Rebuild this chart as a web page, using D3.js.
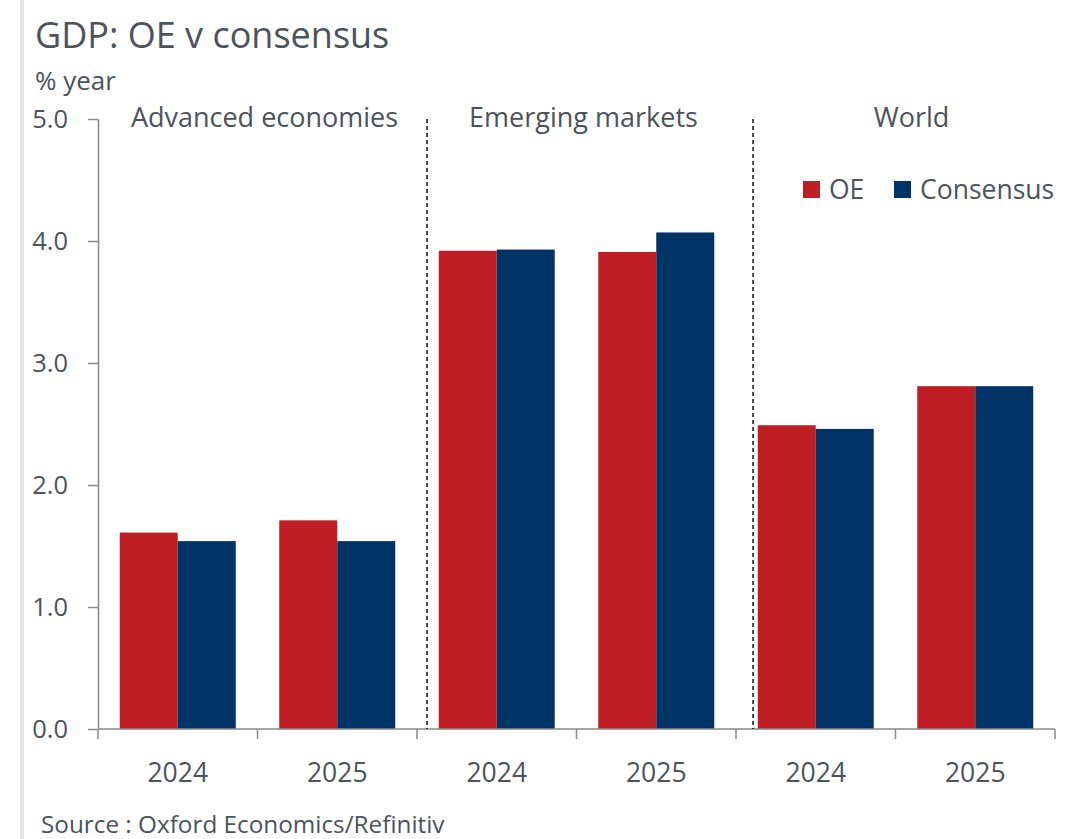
<!DOCTYPE html>
<html>
<head>
<meta charset="utf-8">
<script src="https://cdn.jsdelivr.net/npm/d3@7"></script>
<style>
  body { margin: 0; background: #fff; }
  svg { display: block; font-family: "Open Sans", "Noto Sans", sans-serif; }
</style>
</head>
<body>
<svg id="chart" width="1076" height="839"></svg>
<script>
// ---- data ----
const groups = ["Advanced economies", "Emerging markets", "World"];
const years = ["2024", "2025"];
const seriesNames = ["OE", "Consensus"];
const oeValues = [1.61, 1.71, 3.92, 3.91, 2.49, 2.81];
const consensusValues = [1.54, 1.54, 3.93, 4.07, 2.46, 2.81];
const yTicks = [0, 1, 2, 3, 4, 5];
const dividerPositions = [2.063, 4.107]; // in category units
const colors = { OE: "#be1e24", Consensus: "#003366" };
const textColor = "#4d535b";
const axisColor = "#8a8a8a";

(function () {
const categories = [];
groups.forEach((g, gi) => years.forEach((y, yi) => categories.push({ id: g + "|" + y, group: g, year: y, idx: gi * years.length + yi })));
const rows = categories.map((c, i) => ({ ...c, OE: oeValues[i], Consensus: consensusValues[i] }));

const svg = d3.select("#chart");
const mLeft = 98, mRight = 1055, mTop = 119, mBottom = 729;

// left shadow border
svg.append("rect").attr("x", 20).attr("y", 0).attr("width", 4).attr("height", 839).attr("fill", "#e3e3e3");

const x = d3.scaleBand().domain(categories.map(c => c.id)).range([mLeft, mRight]).padding(0);
const xs = d3.scaleBand().domain(seriesNames).range([0, x.bandwidth()]).paddingInner(0).paddingOuter(0.375);
const xi = d3.scaleLinear().domain([0, categories.length]).range([mLeft, mRight]);
const y = d3.scaleLinear().domain([0, 5]).range([mBottom, mTop]);

// title etc.
svg.append("text").attr("x", 35).attr("y", 48).attr("font-size", 36).attr("fill", textColor).text("GDP: OE v consensus");
svg.append("text").attr("x", 35).attr("y", 90).attr("font-size", 26).attr("fill", textColor).text("% year");
svg.append("text").attr("x", 41).attr("y", 833).attr("font-size", 24.3).attr("fill", textColor).text("Source : Oxford Economics/Refinitiv");

// bars
const gBars = svg.append("g");
rows.forEach(r => {
  seriesNames.forEach(s => {
    gBars.append("rect")
      .attr("x", x(r.id) + xs(s))
      .attr("y", y(r[s]))
      .attr("width", xs.bandwidth())
      .attr("height", y(0) - y(r[s]))
      .attr("fill", colors[s]);
  });
});

// y axis
const yAxis = svg.append("g").attr("transform", `translate(${mLeft},0)`)
  .call(d3.axisLeft(y).tickValues(yTicks).tickFormat(d3.format(".1f")).tickSize(10).tickSizeOuter(0).tickPadding(20));
yAxis.select(".domain").attr("stroke", axisColor).attr("stroke-width", 1.5);
yAxis.selectAll(".tick line").attr("stroke", axisColor).attr("stroke-width", 1.5);
yAxis.selectAll(".tick text").attr("font-size", 25.5).attr("fill", textColor).attr("font-family", "Open Sans, Noto Sans, sans-serif");

// x axis
const xAxisG = svg.append("g");
xAxisG.append("line").attr("x1", mLeft).attr("x2", mRight).attr("y1", mBottom).attr("y2", mBottom).attr("stroke", axisColor).attr("stroke-width", 1.5);
d3.range(categories.length + 1).forEach(i => {
  xAxisG.append("line").attr("x1", xi(i)).attr("x2", xi(i)).attr("y1", mBottom).attr("y2", mBottom + 10).attr("stroke", axisColor).attr("stroke-width", 1.5);
});
categories.forEach(c => {
  xAxisG.append("text").attr("x", x(c.id) + x.bandwidth() / 2).attr("y", 782)
    .attr("text-anchor", "middle").attr("font-size", 26.5).attr("fill", textColor).text(c.year);
});

// dividers
dividerPositions.forEach(p => {
  svg.append("line").attr("x1", xi(p)).attr("x2", xi(p)).attr("y1", y(5)).attr("y2", y(0))
    .attr("stroke", "#111").attr("stroke-width", 1.5).attr("stroke-dasharray", "4,3");
});

// group labels
groups.forEach((g, gi) => {
  const cx = xi(gi * years.length + years.length / 2);
  svg.append("text").attr("x", cx + (gi === 2 ? 16 : 7)).attr("y", 127)
    .attr("text-anchor", "middle").attr("font-size", 27).attr("fill", textColor).text(g);
});

// legend
const legend = svg.append("g");
const legendX = [803, 894];
seriesNames.forEach((s, i) => {
  legend.append("rect").attr("x", legendX[i]).attr("y", 181).attr("width", 17).attr("height", 17).attr("fill", colors[s]);
  legend.append("text").attr("x", legendX[i] + 26).attr("y", 199).attr("font-size", 26.5).attr("fill", textColor).text(s);
});
})();
</script>
</body>
</html>
